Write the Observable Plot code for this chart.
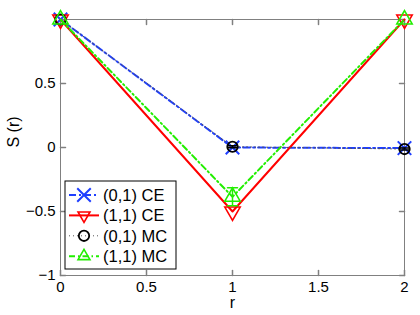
<!DOCTYPE html>
<html><head><meta charset="utf-8">
<script src="https://cdn.jsdelivr.net/npm/d3@7"></script>
<script src="https://cdn.jsdelivr.net/npm/@observablehq/plot@0.6"></script>
<style>body{margin:0;background:#fff}</style>
</head><body><div id="chart"></div>
<script>
// ---- data ----
const rValues = [0, 1, 2];
const ce01 = [1, 0.0, -0.005];
const ce11 = [1, -0.5, 1];
const mc01 = [1, 0.006, -0.012];
const mc01Err = [0, 0.008, 0.008];
const mc11 = [1, -0.385, 1];
const mc11Err = [0, 0.07, 0];
const xTicks = [0, 0.5, 1, 1.5, 2];
const yTicks = [-1, -0.5, 0, 0.5];
const yTickMarks = [-1, -0.5, 0, 0.5, 1];
const seriesNames = ["(0,1) CE", "(1,1) CE", "(0,1) MC", "(1,1) MC"];
const xLabel = "r";
const yLabel = "S (r)";

const axisGray = "#808080";
const font = "'Liberation Sans', Arial, sans-serif";
const fmt = d => (d < 0 ? "\u2212" + Math.abs(d) : String(d));

const series = [
  {name: seriesNames[0], vals: ce01, err: null, color: "#1f3fff", dash: "7,3,2,3", width: 2, symbol: "times", sym: d3.symbolTimes, r: 6.2, rot: 0, mw: 2},
  {name: seriesNames[1], vals: ce11, err: null, color: "#ff0000", dash: null, width: 2, symbol: "triangle", sym: d3.symbolTriangle2, r: 5.7, rot: 180, mw: 1.6},
  {name: seriesNames[2], vals: mc01, err: mc01Err, color: "#000000", lineColor: "#555555", dash: "1,3", width: 1, symbol: "circle", sym: d3.symbolCircle, r: 5.2, rot: 0, mw: 1.8},
  {name: seriesNames[3], vals: mc11, err: mc11Err, color: "#22ee00", dash: "6,3,1.5,3", width: 2, symbol: "triangle", sym: d3.symbolTriangle2, r: 5.7, rot: 0, mw: 1.6}
];

const tickShape = {draw(ctx, l) { ctx.moveTo(0, 0); ctx.lineTo(0, -l); }};

const marks = [];
marks.push(Plot.frame({stroke: axisGray}));
// inward ticks
marks.push(Plot.vector(xTicks, {x: d => d, y: -1, length: 5, rotate: 0, anchor: "start", shape: tickShape, stroke: axisGray}));
marks.push(Plot.vector(xTicks, {x: d => d, y: 1, length: 5, rotate: 180, anchor: "start", shape: tickShape, stroke: axisGray}));
marks.push(Plot.vector(yTickMarks, {x: 0, y: d => d, length: 5, rotate: 90, anchor: "start", shape: tickShape, stroke: axisGray}));
marks.push(Plot.vector(yTickMarks, {x: 2, y: d => d, length: 5, rotate: 270, anchor: "start", shape: tickShape, stroke: axisGray}));

for (const s of series) {
  const rows = rValues.map((x, i) => ({x, y: s.vals[i], e: s.err ? s.err[i] : 0}));
  marks.push(Plot.line(rows, {x: "x", y: "y", stroke: s.lineColor || s.color, strokeWidth: s.width, strokeDasharray: s.dash}));
  if (s.err) {
    const er = rows.filter(d => d.e > 0);
    marks.push(Plot.ruleX(er, {x: "x", y1: d => d.y - d.e, y2: d => d.y + d.e, stroke: s.color, strokeWidth: 1.5}));
    marks.push(Plot.vector(er, {x: "x", y: d => d.y - d.e, length: 10, rotate: 90, anchor: "middle", shape: tickShape, stroke: s.color, strokeWidth: 1.5}));
    marks.push(Plot.vector(er, {x: "x", y: d => d.y + d.e, length: 10, rotate: 90, anchor: "middle", shape: tickShape, stroke: s.color, strokeWidth: 1.5}));
  }
  marks.push(Plot.dot(rows, {x: "x", y: "y", symbol: s.symbol, r: s.r, stroke: s.color, fill: "none", strokeWidth: s.mw, rotate: s.rot}));
}

// axes labels
marks.push(Plot.axisX({ticks: xTicks, tickSize: 0, tickPadding: 6, fontSize: 15, label: null, tickFormat: fmt}));
marks.push(Plot.axisY({ticks: yTicks, tickSize: 0, tickPadding: 5, fontSize: 15, label: null, tickFormat: fmt}));
marks.push(Plot.text([xLabel], {text: d => d, frameAnchor: "bottom", dy: 32, fontSize: 16}));
marks.push(Plot.text([yLabel], {text: d => d, frameAnchor: "left", dx: -47, rotate: -90, fontSize: 16}));

// legend
marks.push((index, scales, values, dims) => {
  const g = d3.create("svg:g").attr("text-anchor", "start");
  const x0 = dims.marginLeft + 5;
  const y0 = dims.height - dims.marginBottom - 94;
  g.append("rect").attr("x", x0).attr("y", y0).attr("width", 111).attr("height", 88)
    .attr("fill", "white").attr("stroke", "black");
  series.forEach((s, i) => {
    const cy = y0 + 14 + i * 20.4;
    g.append("line").attr("x1", x0 + 4).attr("x2", x0 + 34).attr("y1", cy).attr("y2", cy)
      .attr("stroke", s.lineColor || s.color).attr("stroke-width", s.width)
      .attr("stroke-dasharray", s.dash);
    g.append("path").attr("d", d3.symbol(s.sym, Math.PI * s.r * s.r)())
      .attr("transform", `translate(${x0 + 19},${cy}) rotate(${s.rot})`)
      .attr("fill", "none").attr("stroke", s.color).attr("stroke-width", s.mw);
    g.append("text").attr("x", x0 + 38).attr("y", cy).attr("dy", "0.35em")
      .attr("font-size", 16.5).attr("fill", "black").text(s.name);
  });
  return g.node();
});

const chart = Plot.plot({
  width: 420, height: 315,
  marginLeft: 60, marginRight: 16, marginTop: 19, marginBottom: 40,
  style: {fontFamily: font, fontSize: "15px", background: "white", color: "black"},
  x: {domain: [0, 2]},
  y: {domain: [-1, 1]},
  marks
});
document.getElementById("chart").appendChild(chart);
</script>
</body></html>
